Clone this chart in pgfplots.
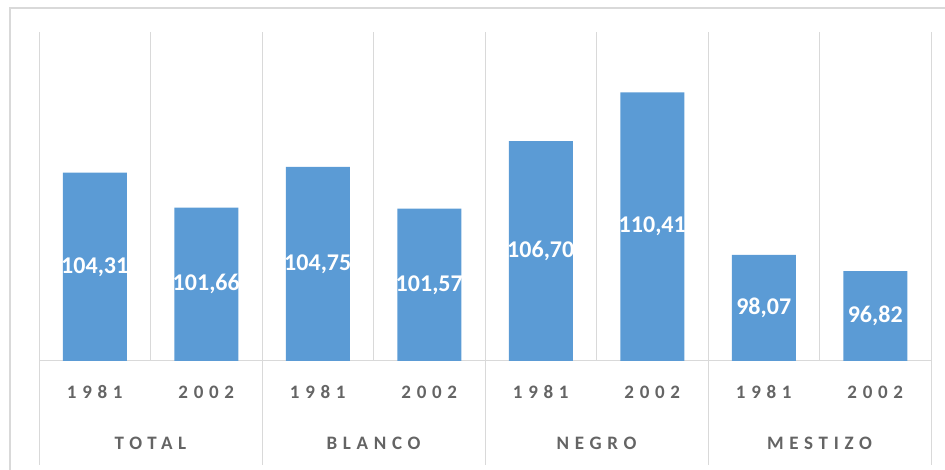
\documentclass[border=0pt]{standalone}
\usepackage{fontspec}
\setmainfont{Carlito}
\newfontfamily\spaced[LetterSpace=30]{Carlito}
\usepackage{pgfplots}
\pgfplotsset{compat=1.18}
\definecolor{barc}{HTML}{5B9BD5}
\definecolor{gridc}{HTML}{D9D9D9}
\definecolor{txtc}{HTML}{646464}
\begin{document}
\begin{tikzpicture}[x=1pt,y=1pt]
\useasboundingbox (0,0) rectangle (945,470);
\draw[gridc, line width=1.5pt] (10,0) -- (10,462) -- (945,462);
\begin{axis}[at={(39pt,109pt)}, anchor=south west, scale only axis,
  width=892pt, height=329pt,
  xmin=-0.5, xmax=7.5, ymin=90, ymax=115,
  hide axis, clip=false, ybar, bar width=64pt]
\foreach \x in {0.5,2.5,4.5,6.5} {
  \edef\tmp{\noexpand\draw[gridc, line width=1pt] (axis cs:\x,90) -- (axis cs:\x,115);}\tmp
}
\foreach \x in {-0.5,1.5,3.5,5.5,7.5} {
  \edef\tmp{\noexpand\draw[gridc, line width=1pt] (axis cs:\x,82.1) -- (axis cs:\x,115);}\tmp
}
\draw[gridc, line width=1pt] (axis cs:-0.5,90) -- (axis cs:7.5,90);
\addplot[fill=barc, draw=none,
  nodes near coords={\pgfmathprintnumber[fixed,fixed zerofill,precision=2,use comma,assume math mode=true]{\pgfplotspointmeta}},
  visualization depends on={rawy \as \rawy},
  every node near coord/.append style={font=\bfseries\fontsize{24}{24}\selectfont, text=white, anchor=center, yshift={-(\rawy-90)*6.58pt}}]
  coordinates {(0,104.31) (1,101.66) (2,104.75) (3,101.57) (4,106.70) (5,110.41) (6,98.07) (7,96.82)};
\foreach \x/\yr in {0/1981,1/2002,2/1981,3/2002,4/1981,5/2002,6/1981,7/2002} {
  \edef\tmp{\noexpand\node[text=txtc, font=\noexpand\spaced\noexpand\bfseries\noexpand\fontsize{19}{19}\noexpand\selectfont, anchor=center, yshift=-31pt] at (axis cs:\x,90) {\yr};}\tmp
}
\foreach \x/\g in {0.5/TOTAL,2.5/BLANCO,4.5/NEGRO,6.5/MESTIZO} {
  \edef\tmp{\noexpand\node[text=txtc, font=\noexpand\spaced\noexpand\bfseries\noexpand\fontsize{19}{19}\noexpand\selectfont, anchor=center, yshift=-82pt] at (axis cs:\x,90) {\g};}\tmp
}
\end{axis}
\end{tikzpicture}
\end{document}
